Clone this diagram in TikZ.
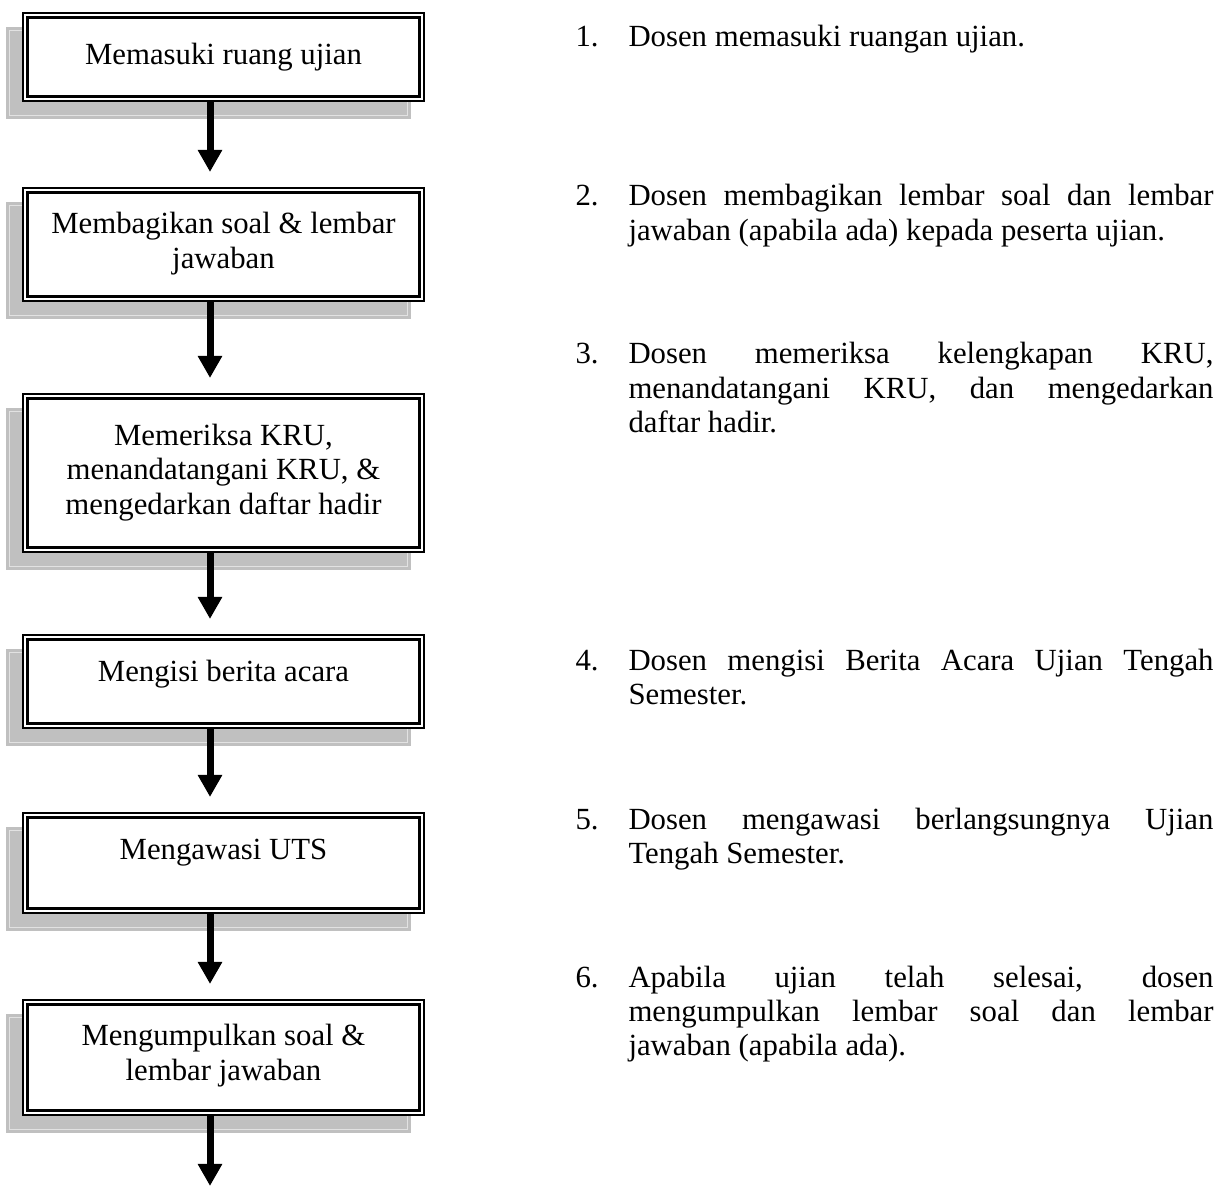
\documentclass[tikz,border=0pt]{standalone}
\usepackage{fontspec}
\setmainfont{Liberation Serif}
\usetikzlibrary{arrows.meta,calc,fit,backgrounds}
\definecolor{shadowgray}{HTML}{C0C0C0}
\definecolor{shadowrim}{HTML}{E2E2E2}
\newlength{\itemw}\setlength{\itemw}{228.15pt}
% a justified line of the step descriptions
\newcommand{\jline}[1]{\makebox[\itemw][s]{#1}}
% a step description, aligned on the baseline of its first line
\newcommand{\steptext}[1]{\parbox[t]{\itemw}{\fontsize{12pt}{13.45pt}\selectfont\raggedright #1}}

\begin{document}
\begin{tikzpicture}[x=0.39pt,y=-0.39pt,
  font=\fontsize{12pt}{13.65pt}\selectfont,
  stepbox/.style={draw, line width=0.94pt, fill=white, inner sep=0pt},
  innerrule/.style={line width=1.17pt},
  boxtext/.style={align=center, inner sep=0pt, anchor=base},
  flow/.style={line width=2.73pt, -{Triangle[width=9pt,length=8.6pt]}},
  listnum/.style={anchor=base west, inner sep=0pt},
  listtext/.style={anchor=base west, inner sep=0pt},
]
\useasboundingbox (0,0) rectangle (1231,1186);

% step boxes (outer rule of the double border)
\node[stepbox, fit={(23.2,13.2)(423.8,100.8)}]   (b1) {};
\node[stepbox, fit={(23.2,188.2)(423.8,300.8)}]  (b2) {};
\node[stepbox, fit={(23.2,394.2)(423.8,551.8)}]  (b3) {};
\node[stepbox, fit={(23.2,635.2)(423.8,727.8)}]  (b4) {};
\node[stepbox, fit={(23.2,813.2)(423.8,912.8)}]  (b5) {};
\node[stepbox, fit={(23.2,1000.2)(423.8,1114.8)}] (b6) {};

% inner rule of the double border and the drop shadow
\foreach \i in {1,...,6}{
  \draw[innerrule] ($(b\i.north west)+(5.3,5.3)$) rectangle ($(b\i.south east)+(-5.3,-5.3)$);
}
\begin{scope}[on background layer]
\foreach \i in {1,...,6}{
  \fill[shadowgray] ($(b\i.north west)+(-16.2,14.8)$) rectangle ($(b\i.south east)+(-13.8,17.2)$);
  \draw[shadowrim, line width=0.4pt] ($(b\i.north west)+(-12.7,18.3)$) rectangle ($(b\i.south east)+(-17.3,13.7)$);
}
\end{scope}

% box labels (a multi-line label sits on the baseline of its last line)
\node[boxtext] (t1) at (223.5,65)   {Memasuki ruang ujian};
\node[boxtext] (t2) at (223.5,269)  {Membagikan soal \& lembar\\jawaban};
\node[boxtext] (t3) at (223.5,515)  {Memeriksa KRU,\\menandatangani KRU, \&\\mengedarkan daftar hadir};
\node[boxtext] (t4) at (223.5,682)  {Mengisi berita acara};
\node[boxtext] (t5) at (223.5,859)  {Mengawasi UTS};
\node[boxtext] (t6) at (223.5,1080) {Mengumpulkan soal \&\\lembar jawaban};

% connectors
\coordinate (axis) at (210,0);
\coordinate (end) at (210,1186);
\draw[flow] (b1.south -| axis) -- ($(b2.north -| axis)+(0,-15)$);
\draw[flow] (b2.south -| axis) -- ($(b3.north -| axis)+(0,-15)$);
\draw[flow] (b3.south -| axis) -- ($(b4.north -| axis)+(0,-15)$);
\draw[flow] (b4.south -| axis) -- ($(b5.north -| axis)+(0,-15)$);
\draw[flow] (b5.south -| axis) -- ($(b6.north -| axis)+(0,-15)$);
\draw[flow] (b6.south -| axis) -- (end);

% step descriptions
\node[listnum] (n1) at (575,47)  {1.};
\node[listtext] (l1) at (628,47) {\steptext{Dosen memasuki ruangan ujian.}};
\node[listnum] (n2) at (575,206) {2.};
\node[listtext] (l2) at (628,206) {\steptext{\jline{Dosen membagikan lembar soal dan lembar}\par jawaban (apabila ada) kepada peserta ujian.}};
\node[listnum] (n3) at (575,364) {3.};
\node[listtext] (l3) at (628,364) {\steptext{\jline{Dosen memeriksa kelengkapan KRU,}\par\jline{menandatangani KRU, dan mengedarkan}\par daftar hadir.}};
\node[listnum] (n4) at (575,670) {4.};
\node[listtext] (l4) at (628,670) {\steptext{\jline{Dosen mengisi Berita Acara Ujian Tengah}\par Semester.}};
\node[listnum] (n5) at (575,829) {5.};
\node[listtext] (l5) at (628,829) {\steptext{\jline{Dosen mengawasi berlangsungnya Ujian}\par Tengah Semester.}};
\node[listnum] (n6) at (575,987) {6.};
\node[listtext] (l6) at (628,987) {\steptext{\jline{Apabila ujian telah selesai, dosen}\par\jline{mengumpulkan lembar soal dan lembar}\par jawaban (apabila ada).}};
\end{tikzpicture}
\end{document}
